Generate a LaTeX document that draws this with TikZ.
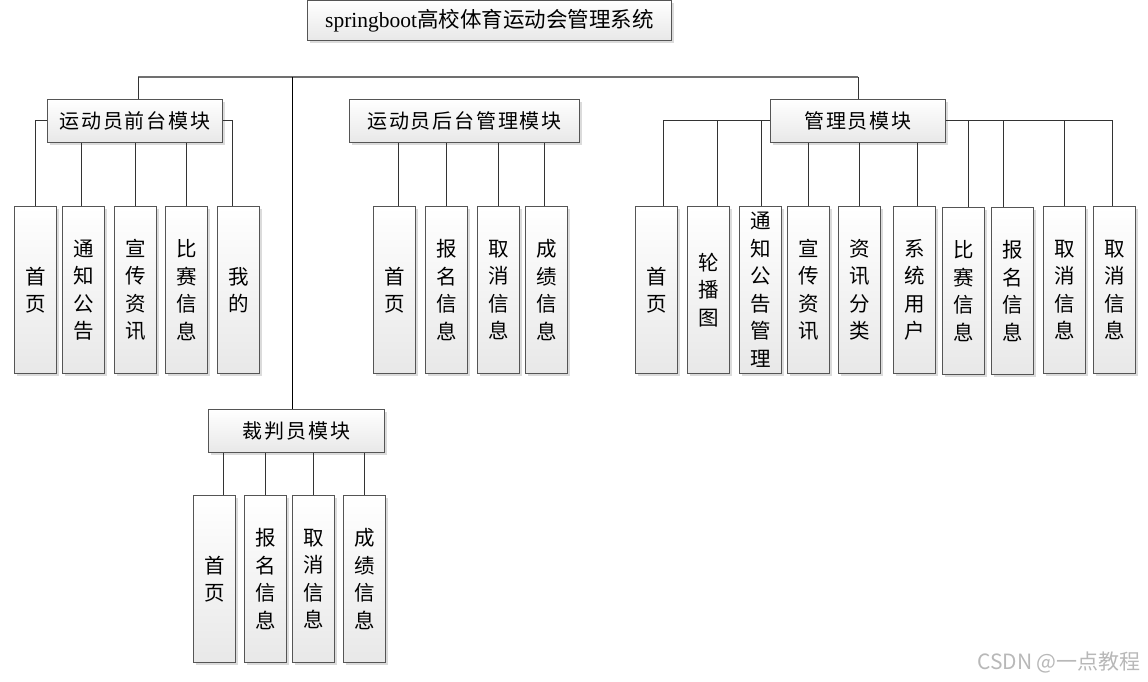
\documentclass[tikz,border=0pt]{standalone}
\usepackage{fontspec}
\setmainfont{Liberation Serif}
\newfontfamily\cjk{Noto Sans CJK SC}
\newfontfamily\cjksp[LetterSpace=9]{Noto Sans CJK SC}
\usetikzlibrary{shadows}
\definecolor{edgec}{HTML}{555555}
\definecolor{linec}{HTML}{333333}
\definecolor{mainc}{HTML}{707070}
\tikzset{
  boxbase/.style={draw=edgec, line width=0.9pt, top color=white, bottom color=black!9,
    drop shadow={shadow xshift=3pt, shadow yshift=-3pt, fill=black!14, opacity=1},
    inner sep=0pt, anchor=north west},
  modbox/.style={boxbase, minimum height=43pt, font=\cjksp\fontsize{20}{24}\selectfont},
  leafbox/.style={boxbase, minimum width=42pt, minimum height=167pt, align=center,
    font=\cjk\fontsize{20.5}{27.5}\selectfont},
  conn/.style={draw=linec, line width=0.9pt},
  mainconn/.style={draw=mainc, line width=1.4pt},
}
\begin{document}
\begin{tikzpicture}[x=1pt,y=-1pt]
\useasboundingbox (0,0) rectangle (1148,682);
% title
\node[boxbase, minimum width=364pt, minimum height=40pt, font=\fontsize{21.5}{24}\selectfont] (top) at (307,0) {springboot{\cjk 高校体育运动会管理系统}};
% modules
\node[modbox, minimum width=175pt] (lm) at (47,99) {运动员前台模块};
\node[modbox, minimum width=230pt] (mm) at (349,99) {运动员后台管理模块};
\node[modbox, minimum width=175pt] (rm) at (770,99) {管理员模块};
\node[modbox, minimum width=176pt] (jm) at (208,409) {裁判员模块};
% main bus
\coordinate (busL) at (138,77);
\coordinate (busR) at (858,77);
\coordinate (busJ) at (292,77);
\draw[mainconn] (busL) -- (busR);
\draw[conn] (busL) -- (busL |- lm.north);
\draw[conn] (busR) -- (busR |- rm.north);
\draw[draw=black, line width=0.9pt] (busJ) -- (busJ |- jm.north);
% left leaves
\node[leafbox] (l1) at (14,206) {首\\页};
\node[leafbox] (l2) at (62,206) {通\\知\\公\\告};
\node[leafbox] (l3) at (114,206) {宣\\传\\资\\讯};
\node[leafbox] (l4) at (165,206) {比\\赛\\信\\息};
\node[leafbox] (l5) at (217,206) {我\\的};
\draw[conn] (lm.west) -| (l1.north);
\draw[conn] ([xshift=-2pt]l2.north |- lm.south) -- ([xshift=-2pt]l2.north);
\draw[conn] (l3.north |- lm.south) -- (l3.north);
\draw[conn] (l4.north |- lm.south) -- (l4.north);
\draw[conn] (lm.east) -| ([xshift=-6pt]l5.north);
% middle leaves
\node[leafbox] (m1) at (373,206) {首\\页};
\node[leafbox] (m2) at (425,206) {报\\名\\信\\息};
\node[leafbox] (m3) at (477,206) {取\\消\\信\\息};
\node[leafbox] (m4) at (525,206) {成\\绩\\信\\息};
\foreach \n/\dx in {m1/4,m2/0,m3/0,m4/-2}{
  \draw[conn] ([xshift=\dx pt]\n.north |- mm.south) -- ([xshift=\dx pt]\n.north);
}
% right leaves
\node[leafbox] (r1) at (635,206) {首\\页};
\node[leafbox] (r2) at (687,206) {轮\\播\\图};
\node[leafbox] (r3) at (739,206) {通\\知\\公\\告\\管\\理};
\node[leafbox] (r4) at (787,206) {宣\\传\\资\\讯};
\node[leafbox] (r5) at (838,206) {资\\讯\\分\\类};
\node[leafbox] (r6) at (893,206) {系\\统\\用\\户};
\node[leafbox] (r7) at (942,207) {比\\赛\\信\\息};
\node[leafbox] (r8) at (991,207) {报\\名\\信\\息};
\node[leafbox] (r9) at (1043,206) {取\\消\\信\\息};
\node[leafbox] (r10) at (1093,206) {取\\消\\信\\息};
\draw[conn] (rm.west) -| ([xshift=7pt]r1.north);
\draw[conn] ([xshift=9pt]r2.north |- rm.west) -- ([xshift=9pt]r2.north);
\draw[conn] ([xshift=1pt]r3.north |- rm.west) -- ([xshift=1pt]r3.north);
\draw[conn] (r4.north |- rm.south) -- (r4.north);
\draw[conn] (r5.north |- rm.south) -- (r5.north);
\draw[conn] ([xshift=3pt]r6.north |- rm.south) -- ([xshift=3pt]r6.north);
\draw[conn] (rm.east) -| ([xshift=-2pt]r10.north);
\draw[conn] ([xshift=5pt]r7.north |- rm.east) -- ([xshift=5pt]r7.north);
\draw[conn] ([xshift=-9pt]r8.north |- rm.east) -- ([xshift=-9pt]r8.north);
\draw[conn] (r9.north |- rm.east) -- (r9.north);
% referee leaves
\node[leafbox] (j1) at (193,495) {首\\页};
\node[leafbox] (j2) at (244,495) {报\\名\\信\\息};
\node[leafbox] (j3) at (292,495) {取\\消\\信\\息};
\node[leafbox] (j4) at (343,495) {成\\绩\\信\\息};
\foreach \n/\dx in {j1/9,j2/0,j3/0,j4/0}{
  \draw[conn] ([xshift=\dx pt]\n.north |- jm.south) -- ([xshift=\dx pt]\n.north);
}
% watermark
\node[font=\cjk\fontsize{21}{24}\selectfont, text=black!28] (wm) at (1059,662) {CSDN @一点教程};
\end{tikzpicture}
\end{document}
